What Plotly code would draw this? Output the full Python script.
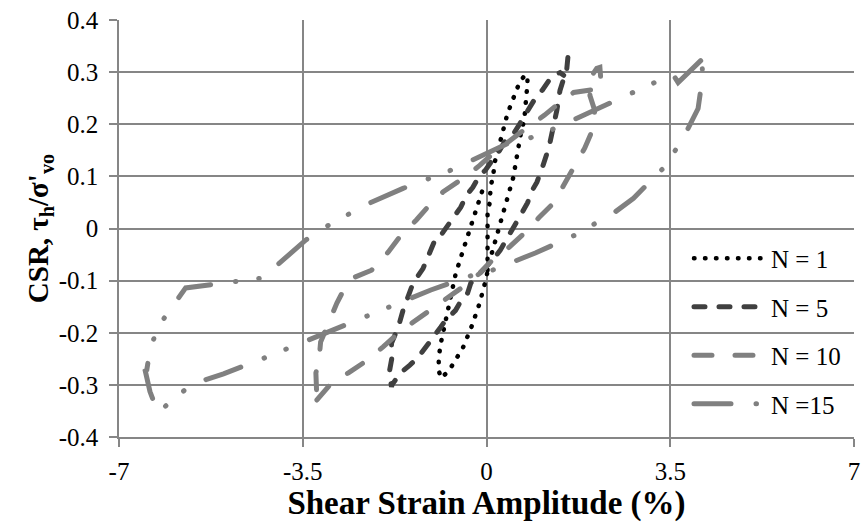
import plotly.graph_objects as go

# ---- data (shear strain %, CSR) ----
n1_x = [0.02, 0.02, 0.00, 0.02, 0.06, 0.06, 0.08, 0.13, 0.15, 0.21, 0.26, 0.32, 0.38, 0.45, 0.53, 0.62, 0.74,
        0.78, 0.78, 0.76, 0.72, 0.66, 0.59, 0.51, 0.38, 0.26, 0.15, 0.08, -0.02, -0.13, -0.28, -0.45, -0.59,
        -0.68, -0.78, -0.87, -0.91, -0.91, -0.87, -0.78, -0.68, -0.59, -0.45, -0.32, -0.19, -0.04]
n1_y = [-0.080, -0.042, 0.002, 0.027, 0.049, 0.064, 0.081, 0.102, 0.125, 0.147, 0.169, 0.190, 0.213, 0.234,
        0.257, 0.278, 0.296, 0.288, 0.278, 0.253, 0.209, 0.186, 0.142, 0.098, 0.052, 0.010, -0.034, -0.055,
        -0.101, -0.143, -0.187, -0.229, -0.252, -0.267, -0.279, -0.287, -0.272, -0.247, -0.220, -0.176,
        -0.132, -0.088, -0.043, -0.001, 0.043, 0.085]

n5_x = [1.55, 1.53, 1.46, 1.40, 1.34, 1.29, 1.19, 1.06, 0.96, 0.87, 0.78, 0.68, 0.55, 0.45, 0.34, 0.26, 0.11,
        -0.13, -0.30, -0.36, -0.51, -0.59, -0.78, -0.87, -1.02, -1.15, -1.30, -1.46, -1.64, -1.80,
        -1.81, -1.85, -1.80, -1.81, -1.68, -1.59, -1.49, -1.40, -1.21, -1.12, -0.96, -0.87, -0.74, -0.64,
        -0.49, -0.38, -0.26, -0.13, -0.02, 0.11, 0.25, 0.36, 0.53, 0.64, 0.81, 0.93, 1.06, 1.19, 1.30, 1.40, 1.47]
n5_y = [0.328, 0.307, 0.284, 0.265, 0.227, 0.202, 0.156, 0.116, 0.089, 0.073, 0.049, 0.031, 0.010, -0.009,
        -0.028, -0.042, -0.061, -0.086, -0.105, -0.124, -0.143, -0.157, -0.176, -0.189, -0.208, -0.227,
        -0.247, -0.262, -0.277, -0.300, -0.304, -0.275, -0.247, -0.220, -0.189, -0.157, -0.132, -0.105,
        -0.077, -0.056, -0.017, -0.013, 0.006, 0.021, 0.041, 0.064, 0.079, 0.102, 0.112, 0.131, 0.150,
        0.169, 0.184, 0.202, 0.230, 0.250, 0.265, 0.284, 0.295, 0.299, 0.294]

n10_x = [-3.23, -2.95, -2.63, -2.29, -1.97, -1.68, -1.40, -1.08, -0.78, -0.45, -0.13, 0.11, 0.43, 0.74, 1.00,
         1.29, 1.47, 1.68, 1.87, 2.04, 2.06, 1.97, 1.97, 2.10, 2.16, 2.19, 1.66, 1.40, 1.10, 0.78, 0.45, 0.15,
         -0.13, -0.45, -0.83, -1.06, -1.34, -1.63, -1.87, -2.19, -2.50, -2.67, -2.85, -3.01, -3.16, -3.19,
         -3.25, -3.23]
n10_y = [-0.329, -0.296, -0.277, -0.254, -0.227, -0.201, -0.180, -0.157, -0.134, -0.112, -0.086, -0.061,
         -0.036, -0.007, 0.021, 0.050, 0.083, 0.118, 0.154, 0.194, 0.227, 0.255, 0.288, 0.307, 0.309, 0.269,
         0.261, 0.242, 0.217, 0.194, 0.169, 0.146, 0.121, 0.096, 0.070, 0.048, 0.016, -0.013, -0.045,
         -0.080, -0.093, -0.108, -0.143, -0.180, -0.218, -0.252, -0.277, -0.329]

n15_x = [4.08, 3.65, 3.55, 3.16, 2.74, 2.34, 1.63, 1.21, 0.81, 0.45, -0.36, -0.76, -1.17, -1.59, -2.31, -2.70,
         -3.10, -3.44, -4.27, -5.73, -5.99, -6.26, -6.41, -6.47, -6.50, -6.41, -6.26, -5.97, -5.63, -5.41,
         -5.01, -4.27, -3.86, -3.44, -3.04, -2.29, -1.87, -1.49, -1.06, -0.11, 0.11, 0.53, 0.93, 1.68, 2.06,
         2.44, 2.80, 3.36, 3.61, 3.84, 4.03, 4.12, 4.10]
n15_y = [0.322, 0.280, 0.296, 0.278, 0.259, 0.242, 0.207, 0.188, 0.173, 0.165, 0.127, 0.108, 0.093, 0.077,
         0.045, 0.024, 0.001, -0.022, -0.095, -0.114, -0.151, -0.189, -0.233, -0.271, -0.273, -0.313, -0.353,
         -0.328, -0.300, -0.292, -0.279, -0.250, -0.233, -0.216, -0.201, -0.168, -0.151, -0.135, -0.118,
         -0.084, -0.080, -0.063, -0.047, -0.013, 0.008, 0.031, 0.058, 0.115, 0.152, 0.192, 0.230, 0.294, 0.319]

series_names = ["N = 1", "N = 5", "N = 10", "N =15"]
x_ticks = [-7, -3.5, 0, 3.5, 7]
x_tick_text = ["-7", "-3.5", "0", "3.5", "7"]
y_ticks = [-0.4, -0.3, -0.2, -0.1, 0, 0.1, 0.2, 0.3, 0.4]
y_tick_text = ["-0.4", "-0.3", "-0.2", "-0.1", "0", "0.1", "0.2", "0.3", "0.4"]

# dash lengths are for round line caps (each dash grows by the line width)
styles = [
    dict(color="#000000", width=4.5, dash="0.5px,10.5px"),
    dict(color="#404040", width=5, dash="11px,14px"),
    dict(color="#808080", width=5, dash="18px,23px"),
    dict(color="#808080", width=5, dash="37px,25px,0.5px,23px,0.5px,25px"),
]

fig = go.Figure()
for i, (xs, ys) in enumerate([(n1_x, n1_y), (n5_x, n5_y), (n10_x, n10_y), (n15_x, n15_y)]):
    fig.add_trace(go.Scatter(x=xs, y=ys, mode="lines", name=series_names[i],
                             legendgroup=f"g{i}", line=styles[i]))

grid = "#868686"
serif = "Liberation Serif, Times New Roman, serif"
fig.update_layout(
    width=867, height=527,
    margin=dict(l=119, r=7, t=19, b=90),
    paper_bgcolor="white", plot_bgcolor="white",
    font=dict(family=serif, size=25, color="black"),
    showlegend=True,
    legend=dict(x=0.7755, y=0.483, xanchor="left", yanchor="top",
                bgcolor="rgba(0,0,0,0)", traceorder="grouped", tracegroupgap=13,
                itemwidth=72, font=dict(family=serif, size=25, color="black")),
    xaxis=dict(range=[-7, 7], tickvals=x_ticks, ticktext=x_tick_text,
               showgrid=True, gridcolor=grid, gridwidth=1.5, zeroline=False,
               showline=True, linecolor=grid, linewidth=1.5,
               ticks="outside", ticklen=8, tickcolor=grid, tickwidth=1.5,
               ticklabelstandoff=3,
               title=dict(text="<b>Shear Strain Amplitude (%)</b>", standoff=3,
                          font=dict(family=serif, size=33, color="black"))),
    yaxis=dict(range=[-0.4, 0.4], tickvals=y_ticks, ticktext=y_tick_text,
               showgrid=True, gridcolor=grid, gridwidth=1.5, zeroline=False,
               showline=True, linecolor=grid, linewidth=1.5,
               ticks="outside", ticklen=8, tickcolor=grid, tickwidth=1.5,
               ticklabelstandoff=6,
               title=dict(text="<b>CSR, τ<sub>h</sub>/σ'<sub>vo</sub></b>", standoff=2,
                          font=dict(family=serif, size=29, color="black"))),
)

round_caps = ("var s=document.createElement('style');"
              "s.innerHTML='.js-line, .legendlines path{stroke-linecap:round !important;}';"
              "document.head.appendChild(s);")
fig.write_html("out.html", post_script=round_caps)
